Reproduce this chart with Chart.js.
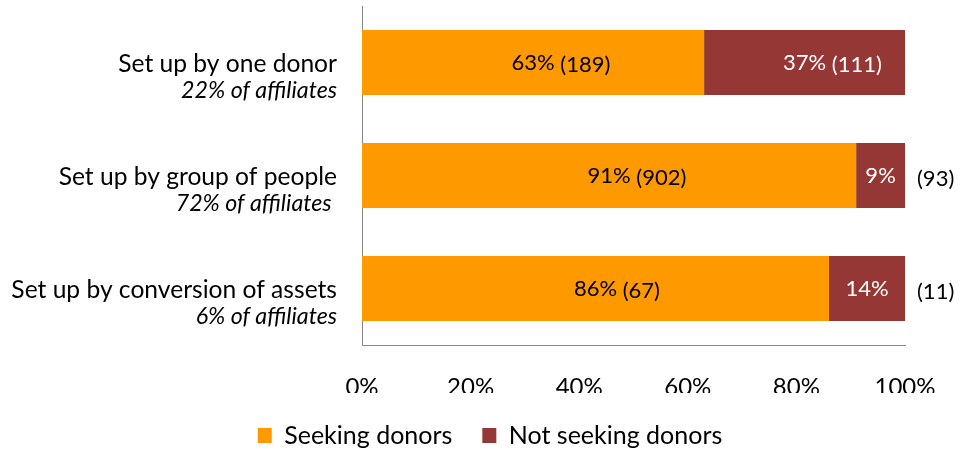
<!DOCTYPE html>
<html><head><meta charset="utf-8">
<script src="https://cdn.jsdelivr.net/npm/chart.js@4.4.0/dist/chart.umd.min.js"></script>
<style>html,body{margin:0;padding:0;background:#fff;}</style>
</head><body>
<canvas id="c" width="967" height="452"></canvas>
<script>
const categories = ['Set up by one donor', 'Set up by group of people', 'Set up by conversion of assets'];
const subLabels = ['22% of affiliates', '72% of affiliates ', '6% of affiliates'];
const seriesNames = ['Seeking donors', 'Not seeking donors'];
const seekingPct = [63, 91, 86];
const notSeekingPct = [37, 9, 14];
const seekingCount = [189, 902, 67];
const notSeekingCount = [111, 93, 11];
const xTicks = [0, 20, 40, 60, 80, 100];

const FONT = 'Lato, "Open Sans", sans-serif';
const ORANGE = '#FF9900', RED = '#953735', AXIS = '#868686';

const labelPlugin = {
  id: 'customLabels',
  afterDraw(chart) {
    const ctx = chart.ctx, ys = chart.scales.y, area = chart.chartArea;
    ctx.save();
    ctx.textBaseline = 'alphabetic';
    ctx.fillStyle = '#000';
    ctx.textAlign = 'right';
    categories.forEach((c, i) => {
      const cy = ys.getPixelForValue(i);
      ctx.font = '24.6px ' + FONT;
      ctx.fillText(c, area.left - 25, cy + 9);
      ctx.font = 'italic 23.2px ' + FONT;
      ctx.fillText(subLabels[i], area.left - 25, cy + 35);
    });
    const pcts = [seekingPct, notSeekingPct];
    const counts = [seekingCount, notSeekingCount];
    const colors = ['#000', '#fff'];
    ctx.textAlign = 'left';
    chart.data.datasets.forEach((ds, d) => {
      const meta = chart.getDatasetMeta(d);
      meta.data.forEach((bar, i) => {
        const left = Math.min(bar.base, bar.x), right = Math.max(bar.base, bar.x);
        const cx = (left + right) / 2, cy = bar.y;
        const size = 22;
        ctx.font = size + 'px ' + FONT;
        const pText = pcts[d][i] + '%';
        const cText = '(' + counts[d][i] + ')';
        const pw = ctx.measureText(pText).width;
        const sw = ctx.measureText(' ').width;
        const cw = ctx.measureText(cText).width;
        const base = cy + 0.36 * size;
        ctx.fillStyle = colors[d];
        ctx.fillText(pText, cx - pw / 2, base);
        if (cx + pw / 2 + sw + cw <= right - 6) {
          ctx.fillText(cText, cx + pw / 2 + sw, base + 2);
        } else {
          ctx.fillStyle = '#000';
          ctx.fillText(cText, right + 12, base + 3);
        }
      });
    });
    ctx.restore();
  }
};

new Chart(document.getElementById('c'), {
  type: 'bar',
  data: {
    labels: categories,
    datasets: [
      { label: seriesNames[0], data: seekingPct, backgroundColor: ORANGE, borderWidth: 0 },
      { label: seriesNames[1], data: notSeekingPct, backgroundColor: RED, borderWidth: 0 }
    ]
  },
  options: {
    indexAxis: 'y',
    responsive: false,
    animation: false,
    devicePixelRatio: 1,
    layout: { padding: { left: 75, right: 62, top: 6, bottom: 0 } },
    datasets: { bar: { categoryPercentage: 1, barPercentage: 0.575 } },
    plugins: {
      legend: {
        position: 'bottom',
        maxHeight: 59,
        labels: { boxWidth: 14, boxHeight: 15, padding: 30, color: '#000', font: { family: FONT, size: 25 } }
      },
      tooltip: { enabled: false }
    },
    scales: {
      x: {
        stacked: true, min: 0, max: 100,
        afterBuildTicks: s => { s.ticks = xTicks.map(v => ({ value: v })); },
        ticks: { callback: v => v + '%', color: '#000', font: { family: FONT, size: 24 }, padding: 28, maxRotation: 0, autoSkip: false },
        grid: { display: false, drawTicks: false, tickLength: 0 },
        border: { display: true, color: AXIS, width: 1 },
        afterFit: s => { s.height = 48; }
      },
      y: {
        stacked: true,
        ticks: { display: false },
        grid: { display: false, drawTicks: false, tickLength: 0 },
        border: { display: true, color: AXIS, width: 1 },
        afterFit: s => { s.width = 287; }
      }
    }
  },
  plugins: [labelPlugin]
});
</script>
</body></html>
